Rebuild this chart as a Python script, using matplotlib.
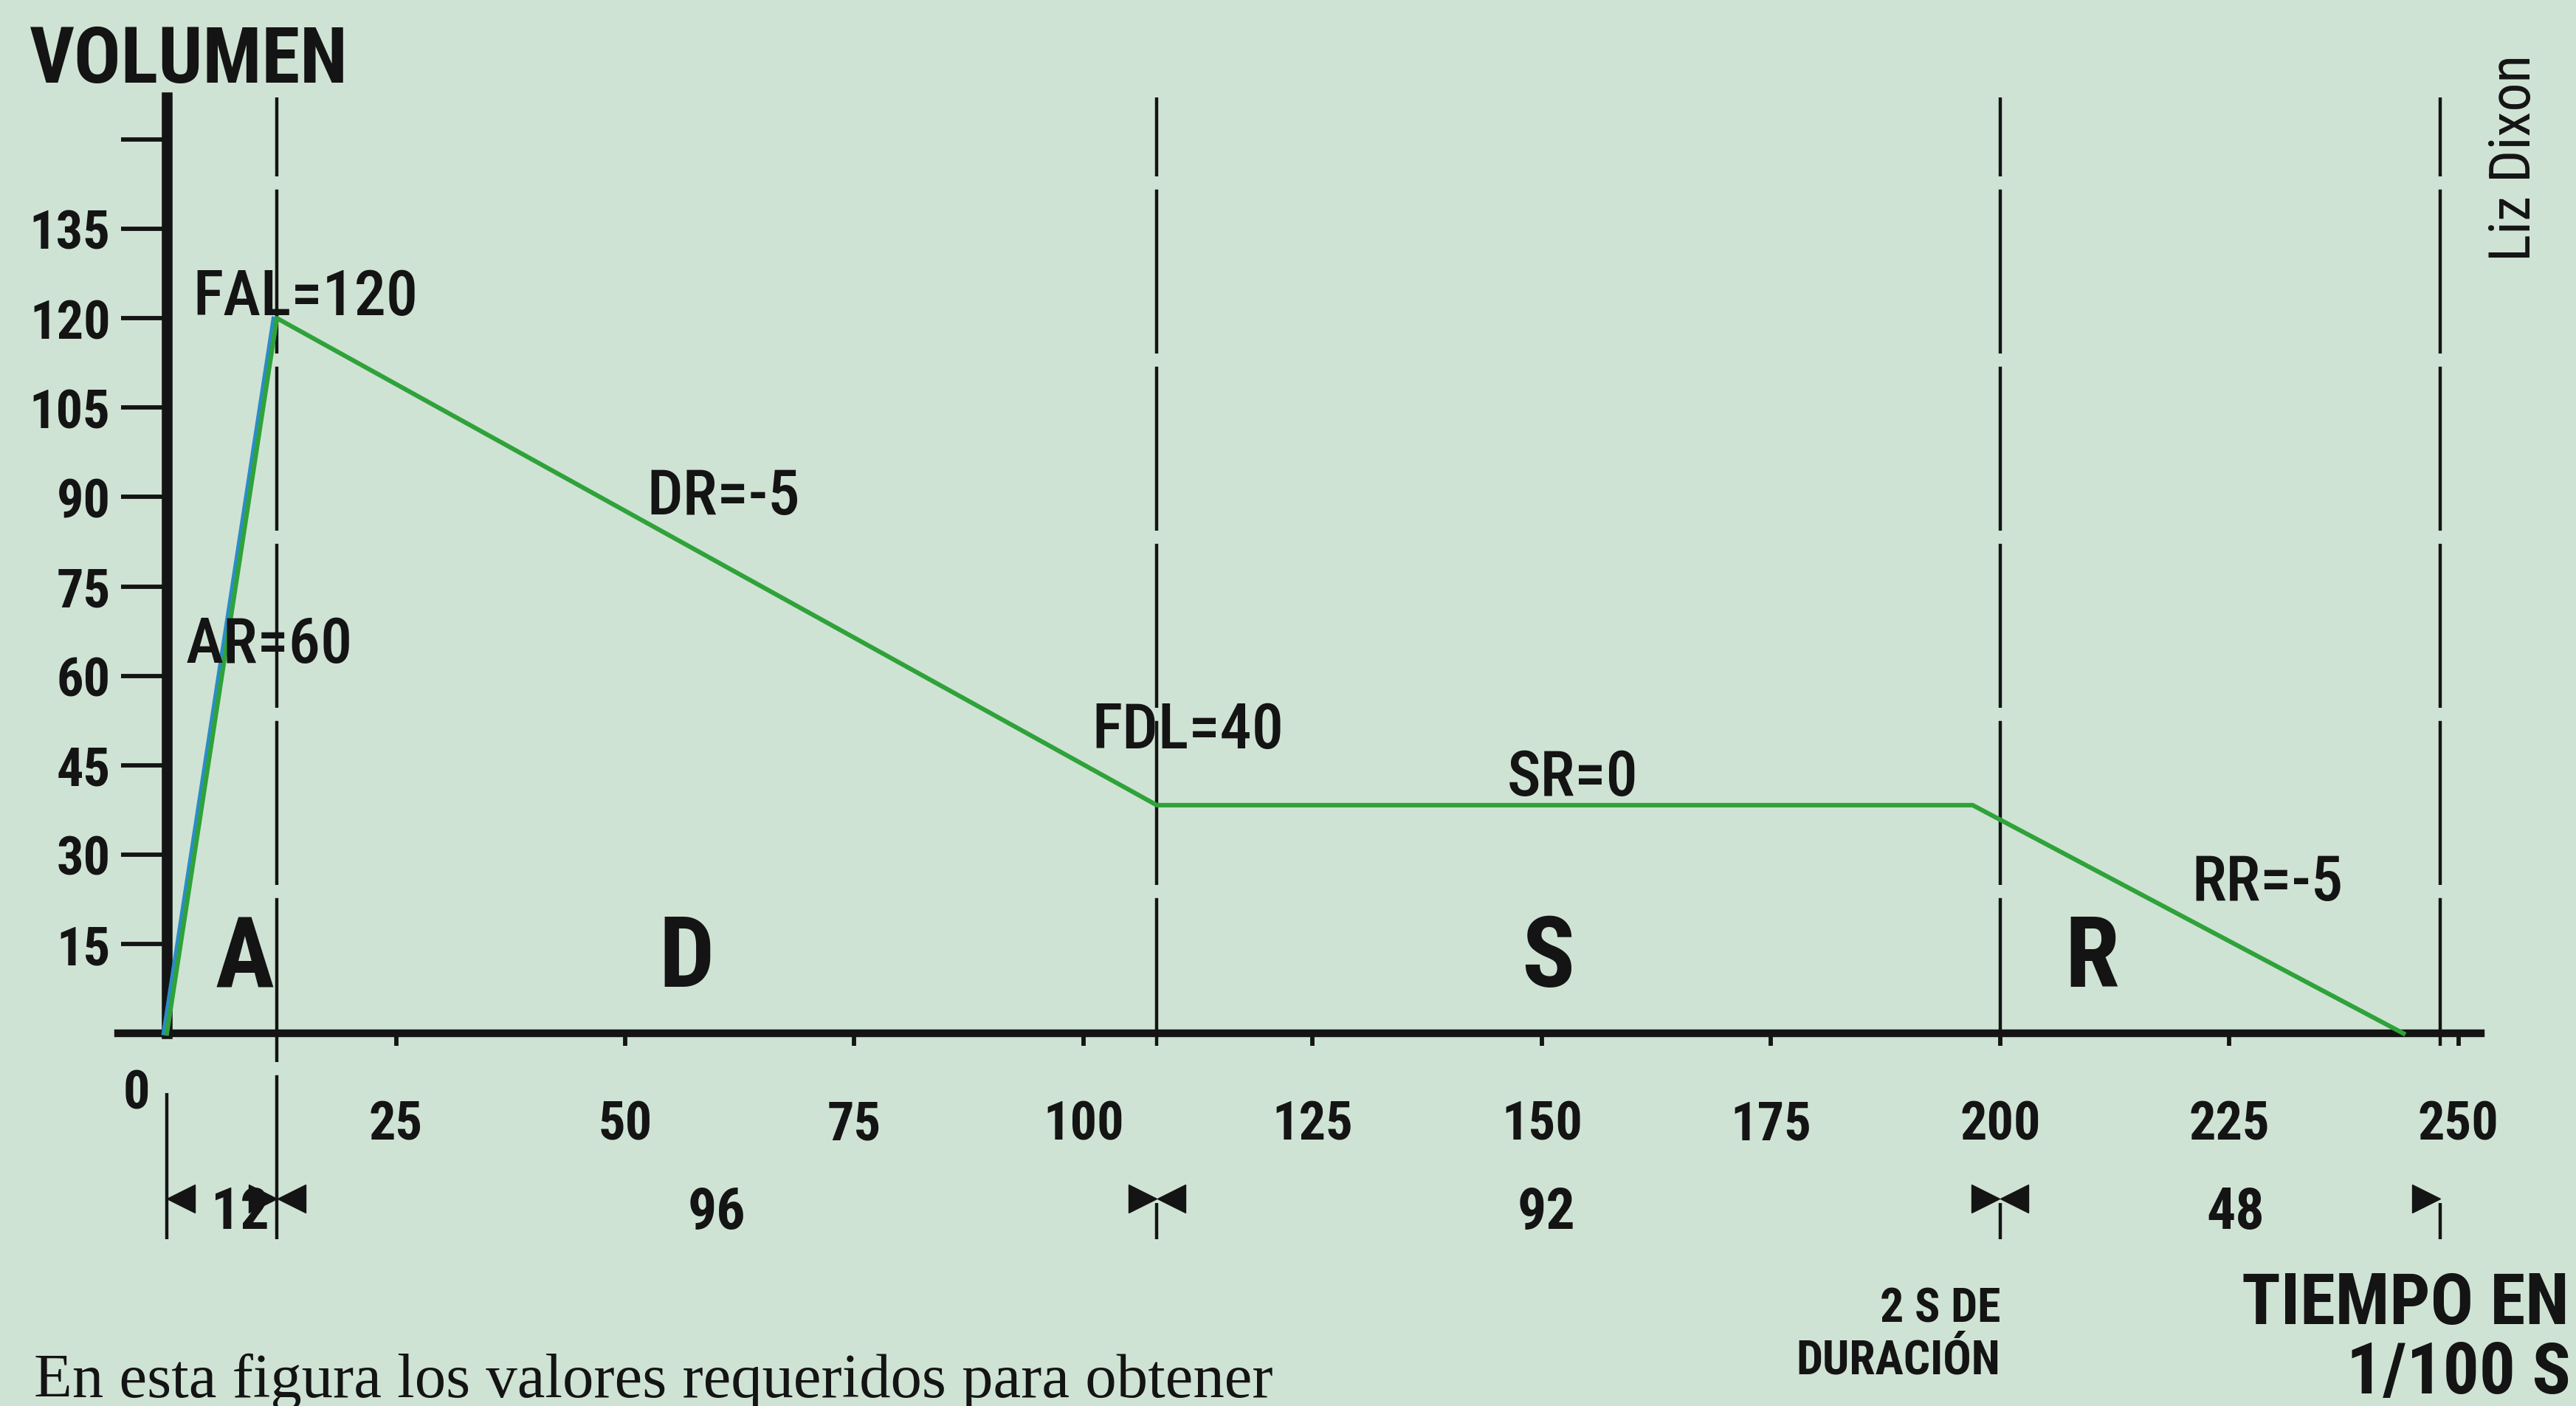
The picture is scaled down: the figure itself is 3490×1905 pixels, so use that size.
import matplotlib
matplotlib.use("Agg")
import matplotlib.pyplot as plt
from matplotlib.transforms import offset_copy
import numpy as np

# ADSR envelope, time in 1/100 s against volume
env_time = [0, 12, 108, 197, 244]
env_vol = [0, 120, 38.3, 38.3, 0]

# phase lengths (1/100 s) and names
durations = [12, 96, 92, 48]
phase_names = ["A", "D", "S", "R"]

# parameter labels on the curve
param_text = ["AR=60", "FAL=120", "DR=-5", "FDL=40", "SR=0", "RR=-5"]

y_ticks = [15, 30, 45, 60, 75, 90, 105, 120, 135, 150]
y_ticklabels = ["15", "30", "45", "60", "75", "90", "105", "120", "135", ""]
x_ticks = [25, 50, 75, 100, 125, 150, 175, 200, 225, 250]
x_ticklabels = ["25", "50", "75", "100", "125", "150", "175", "200", "225", "250"]

# colours / fonts
BG = "#cfe3d4"
INK = "#141414"
GREEN = "#2fa23a"
BLUE = "#2a8cc8"
SANS = ["Roboto Condensed", "Liberation Sans", "DejaVu Sans"]
SERIF = ["Liberation Serif", "DejaVu Serif"]

plt.rcParams["font.family"] = SANS
plt.rcParams["font.stretch"] = "condensed"
plt.rcParams["text.color"] = INK

fig = plt.figure(figsize=(34.91, 19.06), dpi=100, facecolor=BG)
ax = fig.add_axes([0, 0, 1, 1], facecolor=BG)
ax.set_xlim(-18.2, 262.9)
ax.set_ylim(-62.5, 173.5)

# axes as thick black lines crossing at the origin
for side in ["top", "right"]:
    ax.spines[side].set_visible(False)
ax.spines["left"].set_position(("data", 0))
ax.spines["left"].set_bounds(0, 157)
ax.spines["left"].set_linewidth(10.5)
ax.spines["bottom"].set_position(("data", 0))
ax.spines["bottom"].set_bounds(-5.3, 252.4)
ax.spines["bottom"].set_linewidth(7.5)
for side in ["left", "bottom"]:
    ax.spines[side].set_color(INK)

ax.set_yticks(y_ticks, y_ticklabels, fontweight="bold")
ax.set_xticks(x_ticks, x_ticklabels, fontweight="bold",
              bbox=dict(fc=BG, ec="none", pad=10))
ax.tick_params(axis="y", direction="out", length=45, width=4.2, pad=10,
               colors=INK, labelsize=52)
ax.tick_params(axis="x", direction="out", length=48, width=4.2, pad=16,
               colors=INK, labelsize=52)
ax.set_axisbelow(False)
ax.text(-3.3, -12.5, "0", ha="center", va="baseline", fontsize=52, fontweight="bold")

# phase boundaries
bounds = np.concatenate([[0], np.cumsum(durations)])
ax.vlines(bounds[1:], -34.5, 157, colors=INK, linewidth=3.2,
          linestyles=(0, (50, 4)), zorder=2)
ax.vlines(bounds[0], -34.5, -10, colors=INK, linewidth=3.2, zorder=2)

# dimension arrows under the axis (triangles touching the boundary lines)
arrow_y = -27.7
ms = 28
px_per_unit = ax.transData.transform((1, 0))[0] - ax.transData.transform((0, 0))[0]
half = ms / 2 * fig.dpi / 72 / px_per_unit
ax.plot(bounds[:-1] + half, [arrow_y] * len(durations), ls="none", marker="<",
        ms=ms, color=INK, zorder=4)
ax.plot(bounds[1:] - half, [arrow_y] * len(durations), ls="none", marker=">",
        ms=ms, color=INK, zorder=4)
dim_x = [8, 60, 150.5, 225.7]
for x, d in zip(dim_x, durations):
    ax.text(x, -32.7, str(d), ha="center", va="baseline", fontsize=56,
            fontweight="bold")

# envelope
blue_shift = offset_copy(ax.transData, fig=fig, x=-3.5, y=0, units="points")
ax.plot(env_time[:2], env_vol[:2], color=BLUE, lw=3.4, transform=blue_shift, zorder=3)
ax.plot(env_time, env_vol, color=GREEN, lw=4.4, zorder=4)

# phase letters
phase_x = [8.5, 56.7, 150.7, 210]
for x, name in zip(phase_x, phase_names):
    ax.text(x, 7.9, name, ha="center", va="baseline", fontsize=96, fontweight="bold")

# parameter labels
param_pos = [(11.2, 62.3), (15.1, 120.6), (60.7, 87.2),
             (111.4, 48.0), (153.4, 40.0), (229.2, 22.4)]
for (x, y), t in zip(param_pos, param_text):
    ax.text(x, y, t, ha="center", va="baseline", fontsize=62,
            fontweight="medium", zorder=5)

# texts around the chart
fig.text(0.0115, 0.9412, "VOLUMEN", fontsize=76, fontweight="bold", va="baseline")
fig.text(0.9971, 0.0587, "TIEMPO EN", fontsize=70, fontweight="bold",
         ha="right", va="baseline")
fig.text(0.9977, 0.0094, "1/100 S", fontsize=70, fontweight="bold",
         ha="right", va="baseline")
fig.text(0.7763, 0.0600, "2 S DE", fontsize=46, fontweight="bold",
         ha="right", va="baseline")
fig.text(0.7763, 0.0235, "DURACIÓN", fontsize=46, fontweight="bold",
         ha="right", va="baseline")
fig.text(0.9757, 0.8877, "Liz Dixon", fontsize=56, rotation=90,
         ha="center", va="center")
fig.text(0.0132, 0.0068, "En esta figura los valores requeridos para obtener",
         fontsize=61, family=SERIF, va="baseline")

fig.savefig("out.png", dpi=100, facecolor=BG)
